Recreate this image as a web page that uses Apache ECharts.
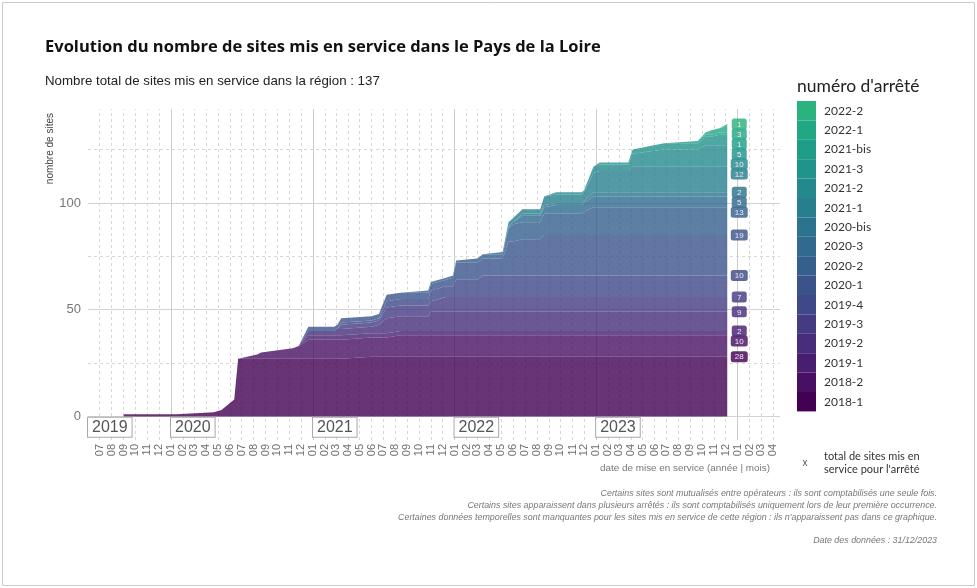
<!DOCTYPE html>
<html>
<head>
<meta charset="utf-8">
<script src="https://cdn.jsdelivr.net/npm/echarts@6/dist/echarts.min.js"></script>
<style>
  html, body { margin: 0; padding: 0; background: #fff; }
  #chart { width: 977px; height: 588px; }
</style>
</head>
<body>
<div id="chart"></div>
<script>
// Dates at which the cumulative counts are recorded
const dates = [
  '2019-09-01', '2020-01-15', '2020-04-20', '2020-05-10', '2020-06-12', '2020-06-22',
  '2020-08-10', '2020-08-20', '2020-11-10', '2020-11-25', '2020-12-20', '2021-02-25',
  '2021-03-05', '2021-03-15', '2021-06-01', '2021-06-20', '2021-07-10', '2021-08-15',
  '2021-10-25', '2021-11-01', '2021-12-10', '2021-12-28', '2022-01-05', '2022-03-01',
  '2022-03-15', '2022-05-05', '2022-05-20', '2022-06-01', '2022-06-25', '2022-08-10',
  '2022-08-20', '2022-09-20', '2022-11-25', '2022-12-01', '2022-12-25', '2023-01-10',
  '2023-03-25', '2023-04-05', '2023-06-25', '2023-09-20', '2023-10-10', '2023-10-25',
  '2023-11-15', '2023-12-05'
];

// Arrêtés, from the oldest (bottom of the stack) to the newest
const arretes = ['2018-1', '2018-2', '2019-1', '2019-2', '2019-3', '2019-4', '2020-1', '2020-2',
  '2020-3', '2020-bis', '2021-1', '2021-2', '2021-3', '2021-bis', '2022-1', '2022-2'];

// Cumulative number of sites in service, per arrêté, at each date
const sites_2018_1 = [1,1,2,3,8,27, 27,27,27,27,27,27,27,27, 28,28,28,28,28,28,28,28,28,28,28,28,28,28,28,28,28,28,28,28,28,28,28,28,28,28,28,28,28,28];
const sites_2018_2 = [0,0,0,0,0,0, 2,3,5,6, 9,9,9,9,9,9,9, 10,10,10,10,10,10,10,10,10,10,10,10,10,10,10,10,10,10,10,10,10,10,10,10,10,10,10];
const sites_2019_1 = [0,0,0,0,0,0,0,0,0,0, 2,2,2,2,2,2,2,2,2,2,2,2,2,2,2,2,2,2,2,2,2,2,2,2,2,2,2,2,2,2,2,2,2,2];
const sites_2019_2 = [0,0,0,0,0,0,0,0,0,0, 2,2,3,3,3,4,7,7,7, 9,9,9,9,9,9,9,9,9,9,9,9,9,9,9,9,9,9,9,9,9,9,9,9,9];
const sites_2019_3 = [0,0,0,0,0,0,0,0,0,0,0,0,0, 2,2,2,5,5,5,5, 7,7,7,7,7,7,7,7,7,7,7,7,7,7,7,7,7,7,7,7,7,7,7,7];
const sites_2019_4 = [0,0,0,0,0,0,0,0,0,0,0,0,0, 1,1,1,3,3,3,5,5,5,8,8, 10,10,10,10,10,10,10,10,10,10,10,10,10,10,10,10,10,10,10,10];
const sites_2020_1 = [0,0,0,0,0,0,0,0,0,0, 2,2,2,2,2,2, 3,3,3,3,3, 4, 8,8,8,8, 16,16,17,17, 19,19,19,19,19,19,19,19,19,19,19,19,19,19];
const sites_2020_2 = [0,0,0,0,0,0,0,0,0,0,0,0,0,0,0,0,0,0, 1,1,1,1,1, 2,2,2, 6, 8,8,8, 10,10,10, 11, 13,13,13,13,13,13,13,13,13,13];
const sites_2020_3 = [0,0,0,0,0,0,0,0,0,0,0,0,0,0,0,0,0,0,0,0,0,0,0,0,0, 1,1,1, 3,3,3, 4,4,4, 5,5,5,5,5,5,5,5,5,5];
const sites_2020_bis = [0,0,0,0,0,0,0,0,0,0,0,0,0,0,0,0,0,0,0,0,0,0,0,0,0,0,0,0, 1,1,1,1,1,1, 2,2,2,2,2,2,2,2,2,2];
const sites_2021_1 = [0,0,0,0,0,0,0,0,0,0,0,0,0,0,0,0,0,0,0,0,0,0,0,0,0,0, 2,2,2,2, 4,4,4,4, 9, 10,10, 12,12,12,12,12,12,12];
const sites_2021_2 = [0,0,0,0,0,0,0,0,0,0,0,0,0,0,0,0,0,0,0,0,0,0,0,0,0,0,0,0,0,0,0, 1,1,1, 3,3,3, 6, 8,8, 10,10,10,10];
const sites_2021_3 = [0,0,0,0,0,0,0,0,0,0,0,0,0,0,0,0,0,0,0,0,0,0,0,0,0,0,0,0,0,0,0,0,0,0,0, 1,1, 2, 3,3, 4,4, 5,5];
const sites_2021_bis = [0,0,0,0,0,0,0,0,0,0,0,0,0,0,0,0,0,0,0,0,0,0,0,0,0,0,0,0,0,0,0,0,0,0,0,0,0,0,0, 1,1,1,1,1];
const sites_2022_1 = [0,0,0,0,0,0,0,0,0,0,0,0,0,0,0,0,0,0,0,0,0,0,0,0,0,0,0,0,0,0,0,0,0,0,0,0,0,0,0,0, 1,2,2,3];
const sites_2022_2 = [0,0,0,0,0,0,0,0,0,0,0,0,0,0,0,0,0,0,0,0,0,0,0,0,0,0,0,0,0,0,0,0,0,0,0,0,0,0,0,0,0,0,0, 1];

const siteSeries = [sites_2018_1, sites_2018_2, sites_2019_1, sites_2019_2, sites_2019_3, sites_2019_4,
  sites_2020_1, sites_2020_2, sites_2020_3, sites_2020_bis, sites_2021_1, sites_2021_2,
  sites_2021_3, sites_2021_bis, sites_2022_1, sites_2022_2];

// Year tags shown under the baseline
const yearLabels = ['2019', '2020', '2021', '2022', '2023'];
const yAxisLabels = [0, 50, 100];

// Viridis shades, one per arrêté
const palette = ['#440154', '#471063', '#481F70', '#472D7B', '#443B83', '#3F4888', '#3A548B', '#355F8D',
  '#306A8E', '#2C748E', '#277E8E', '#23898D', '#20948B', '#1E9D89', '#22A785', '#2CB27E'];

const ts = s => { const p = s.split('-').map(Number); return Date.UTC(p[0], p[1] - 1, p[2]); };
const xMin = Date.UTC(2019, 5, 1);
const xMax = Date.UTC(2024, 3, 19);

// Monthly ticks (07/2019 → 04/2024) and yearly lines
const monthTicks = [];
for (let y = 2019, m = 6; ; m++) {
  if (m > 11) { m = 0; y++; }
  if (y === 2024 && m > 3) break;
  monthTicks.push(Date.UTC(y, m, 1));
}
const yearTicks = [2020, 2021, 2022, 2023, 2024].map(y => Date.UTC(y, 0, 1));

const chart = echarts.init(document.getElementById('chart'), null, { renderer: 'canvas' });

const areaSeries = arretes.map((name, i) => ({
  name: name,
  type: 'line',
  stack: 'total',
  symbol: 'none',
  z: 3,
  silent: true,
  lineStyle: { width: 0, color: palette[i] },
  itemStyle: { color: palette[i] },
  areaStyle: { color: palette[i], opacity: 0.8 },
  emphasis: { disabled: true },
  data: dates.map((d, k) => [ts(d), siteSeries[i][k]])
}));

// Label at the end of each band: top of the band, spread apart vertically
const endTs = ts(dates[dates.length - 1]);
const labelData = [];
let running = 0;
siteSeries.forEach((s, i) => {
  const last = s[s.length - 1];
  running += last;
  labelData.push([endTs, running, last, i]);
});

function renderEndLabel(params, api) {
  const ideal = labelData.map(d => api.coord([d[0], d[1]])[1]);
  const order = ideal.map((v, i) => i).sort((a, b) => ideal[a] - ideal[b]);
  const pos = [];
  let prev = -Infinity;
  const gap = 10;
  order.forEach(idx => {
    const y = Math.max(ideal[idx], prev + gap);
    pos[idx] = y;
    prev = y;
  });
  const i = params.dataIndex;
  const x = api.coord([labelData[i][0], 0])[0] + 12;
  const txt = String(labelData[i][2]);
  const w = txt.length > 1 ? 17 : 15;
  const h = 11;
  return {
    type: 'group',
    children: [
      { type: 'rect', shape: { x: x - w / 2, y: pos[i] - h / 2, width: w, height: h, r: 2.5 },
        style: { fill: palette[i], opacity: 0.82 } },
      { type: 'text', x: x, y: pos[i] + 0.5,
        style: { text: txt, fill: '#eeeeee', font: '8px "Liberation Sans", Arial, sans-serif',
                 align: 'center', verticalAlign: 'middle' } }
    ]
  };
}

const yearData = yearLabels.map(y => [Math.max(Date.UTC(+y, 0, 1), xMin), -5, y]);

function renderYear(params, api) {
  const d = yearData[params.dataIndex];
  const p = api.coord([d[0], d[1]]);
  return {
    type: 'text',
    x: p[0],
    y: p[1],
    style: {
      text: d[2], fill: '#555555', font: '16px "Liberation Sans", Arial, sans-serif',
      align: 'left', verticalAlign: 'middle',
      backgroundColor: '#ffffff', borderColor: '#a8a8a8', borderWidth: 1,
      padding: [2, 4, 1, 4]
    }
  };
}

// Grid lines (monthly dashed, yearly solid, horizontal major / minor)
const gridLines = [];
monthTicks.forEach(t => gridLines.push({ xAxis: t, lineStyle: { color: '#d8d8d8', width: 1, type: [3, 3] } }));
yearTicks.forEach(t => gridLines.push({ xAxis: t, lineStyle: { color: '#cccccc', width: 1, type: 'solid' } }));
[25, 75, 125].forEach(v => gridLines.push({ yAxis: v, lineStyle: { color: '#d8d8d8', width: 1, type: [3, 3] } }));
[0, 50, 100].forEach(v => gridLines.push({ yAxis: v, lineStyle: { color: '#d2d2d2', width: 1, type: 'solid' } }));

const gridSeries = {
  name: '__grid',
  type: 'line',
  z: 1,
  silent: true,
  symbol: 'none',
  lineStyle: { opacity: 0 },
  data: [[xMin, 0]],
  markLine: {
    z: 1,
    silent: true,
    symbol: ['none', 'none'],
    label: { show: false },
    animation: false,
    data: gridLines
  }
};

const pad2 = n => (n < 10 ? '0' : '') + n;
const sans = '"Liberation Sans", Arial, sans-serif';
const geo = 'Lato, "Noto Sans", sans-serif';

chart.setOption({
  animation: false,
  backgroundColor: '#ffffff',
  grid: { left: 88, right: 197, top: 109, bottom: 148, containLabel: false },
  xAxis: [{
    type: 'time',
    min: xMin,
    max: xMax,
    axisLine: { show: false },
    axisTick: { show: false },
    splitLine: { show: false },
    axisLabel: { show: false }
  }, {
    // Month labels on a plain numeric axis sharing the same extent
    type: 'value',
    position: 'bottom',
    min: xMin,
    max: xMax,
    axisLine: { show: false },
    axisTick: { show: false },
    splitLine: { show: false },
    axisLabel: {
      customValues: monthTicks,
      rotate: 90,
      margin: 4,
      color: '#707070',
      fontSize: 11,
      fontFamily: sans,
      formatter: v => pad2(new Date(v).getUTCMonth() + 1)
    }
  }],
  yAxis: {
    type: 'value',
    min: -11,
    max: 144,
    axisLine: { show: false },
    axisTick: { show: false },
    splitLine: { show: false },
    axisLabel: { customValues: yAxisLabels, color: '#777777', fontSize: 13, fontFamily: sans, margin: 7 }
  },
  legend: {
    orient: 'vertical',
    left: 797,
    top: 101,
    padding: 0,
    itemWidth: 19,
    itemHeight: 19.4,
    itemGap: 0,
    icon: 'rect',
    selectedMode: false,
    data: arretes.slice().reverse(),
    textStyle: { fontFamily: geo, fontSize: 12, color: '#333333', padding: [2, 0, 0, 3] }
  },
  graphic: [
    { type: 'rect', shape: { x: 2.5, y: 2.5, width: 972, height: 583 }, style: { fill: 'none', stroke: '#cccccc', lineWidth: 1 }, silent: true },
    { type: 'text', left: 45, top: 39, style: { text: 'Evolution du nombre de sites mis en service dans le Pays de la Loire', font: 'bold 16.5px "Open Sans", Lato, sans-serif', fill: '#111111' } },
    { type: 'text', left: 45, top: 75, style: { text: 'Nombre total de sites mis en service dans la région : 137', font: '13.3px ' + sans, fill: '#222222' } },
    { type: 'text', left: 797, top: 77, style: { text: 'numéro d\'arrêté', font: '17.5px ' + geo, fill: '#222222' } },
    { type: 'text', x: 50, y: 113, rotation: Math.PI / 2, style: { text: 'nombre de sites', font: '10px ' + sans, fill: '#444444', align: 'right', verticalAlign: 'middle' } },
    { type: 'text', x: 770, y: 468, style: { text: 'date de mise en service (année | mois)', font: '9.9px ' + sans, fill: '#777777', align: 'right', verticalAlign: 'middle' } },
    { type: 'text', x: 805, y: 463, style: { text: 'x', font: '10px ' + sans, fill: '#555555', align: 'center', verticalAlign: 'middle' } },
    { type: 'text', x: 824, y: 463, style: { text: 'total de sites mis en\nservice pour l\'arrêté', font: '11px ' + geo, fill: '#333333', align: 'left', verticalAlign: 'middle', lineHeight: 13 } },
    { type: 'text', x: 937, y: 494, style: { text: 'Certains sites sont mutualisés entre opérateurs : ils sont comptabilisés une seule fois.', font: 'italic 8.9px ' + sans, fill: '#777777', align: 'right', verticalAlign: 'middle' } },
    { type: 'text', x: 937, y: 506, style: { text: 'Certains sites apparaissent dans plusieurs arrêtés : ils sont comptabilisés uniquement lors de leur première occurrence.', font: 'italic 8.9px ' + sans, fill: '#777777', align: 'right', verticalAlign: 'middle' } },
    { type: 'text', x: 937, y: 518, style: { text: 'Certaines données temporelles sont manquantes pour les sites mis en service de cette région : ils n\'apparaissent pas dans ce graphique.', font: 'italic 8.9px ' + sans, fill: '#777777', align: 'right', verticalAlign: 'middle' } },
    { type: 'text', x: 937, y: 541, style: { text: 'Date des données : 31/12/2023', font: 'italic 8.9px ' + sans, fill: '#777777', align: 'right', verticalAlign: 'middle' } }
  ],
  series: [gridSeries].concat(areaSeries).concat([
    { type: 'custom', name: '__years', z: 6, silent: true, clip: false, renderItem: renderYear, data: yearData },
    { type: 'custom', name: '__labels', z: 7, silent: true, clip: false, renderItem: renderEndLabel, data: labelData }
  ])
});
</script>
</body>
</html>
